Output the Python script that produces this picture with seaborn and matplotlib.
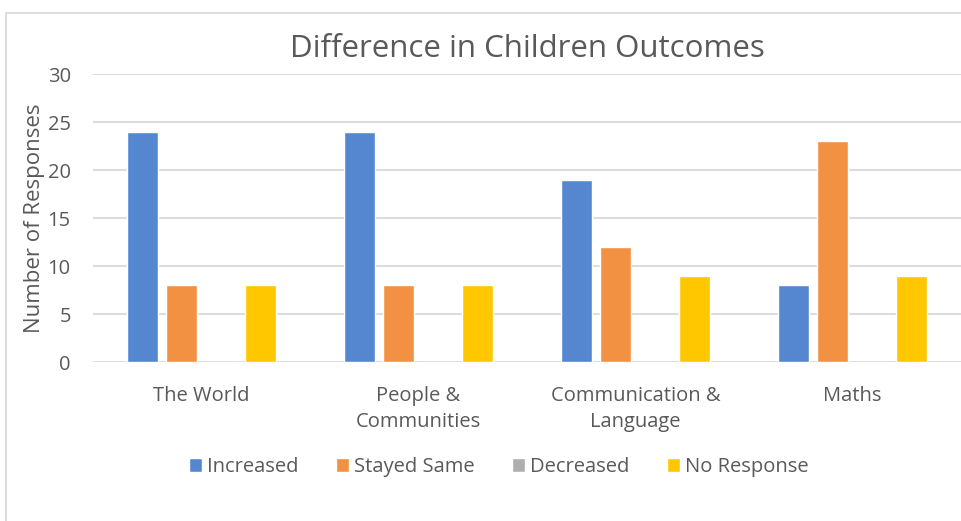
import pandas as pd
import seaborn as sns
import matplotlib.pyplot as plt
from matplotlib.patches import Rectangle

# chart data
categories = ['The World', 'People &\nCommunities', 'Communication &\nLanguage', 'Maths']
series = ['Increased', 'Stayed Same', 'Decreased', 'No Response']
increased = [24, 24, 19, 8]
stayed_same = [8, 8, 12, 23]
decreased = [0, 0, 0, 0]
no_response = [8, 8, 9, 9]
colors = ['#5587D1', '#F29141', '#AFAFAF', '#FFC700']

values = [increased, stayed_same, decreased, no_response]
rows = []
for s, vals in zip(series, values):
    for c, v in zip(categories, vals):
        rows.append({'category': c, 'series': s, 'count': v})
df = pd.DataFrame(rows)

sns.set_style('white')
plt.rcParams['font.family'] = ['Open Sans', 'DejaVu Sans']
text_color = '#595959'

fig = plt.figure(figsize=(9.61, 5.21), dpi=100)
ax = fig.add_axes([93 / 961, 1 - 362 / 521, 868 / 961, 288 / 521])

sns.barplot(data=df, x='category', y='count', hue='series', order=categories,
            hue_order=series, palette=colors, width=0.73, gap=0.22,
            saturation=1, ax=ax, legend=True)

ax.set_ylim(0, 30)
ax.set_yticks(range(0, 31, 5))
ax.set_xlim(-0.5, 3.5)
ax.yaxis.grid(True, color='#D9D9D9', linewidth=1.3)
ax.set_axisbelow(True)
for sp in ax.spines.values():
    sp.set_visible(False)
ax.tick_params(axis='both', length=0, labelsize=14.5, colors=text_color)
ax.tick_params(axis='y', pad=16)
ax.tick_params(axis='x', pad=17)
for lbl in ax.get_xticklabels():
    lbl.set_linespacing(1.4)
ax.set_xlabel('')
ax.set_ylabel('Number of Responses', fontsize=16, color=text_color, labelpad=2)
ax.set_title('Difference in Children Outcomes', fontsize=22.5, color=text_color, pad=12)

handles, labels = ax.get_legend_handles_labels()
ax.legend(handles, labels, loc='center', bbox_to_anchor=(499 / 961, 1 - 467 / 521),
          bbox_transform=fig.transFigure, ncol=4, frameon=False, fontsize=14.5,
          handlelength=0.65, handleheight=0.65, handletextpad=0.25, columnspacing=1.85,
          labelcolor=text_color)

# chart area border
fig.patches.append(Rectangle((5.5 / 961, -0.1), 1.2, 1.1 - 13 / 521, transform=fig.transFigure,
                             fill=False, edgecolor='#D9D9D9', linewidth=1.3))

fig.savefig('out.png', dpi=100)
